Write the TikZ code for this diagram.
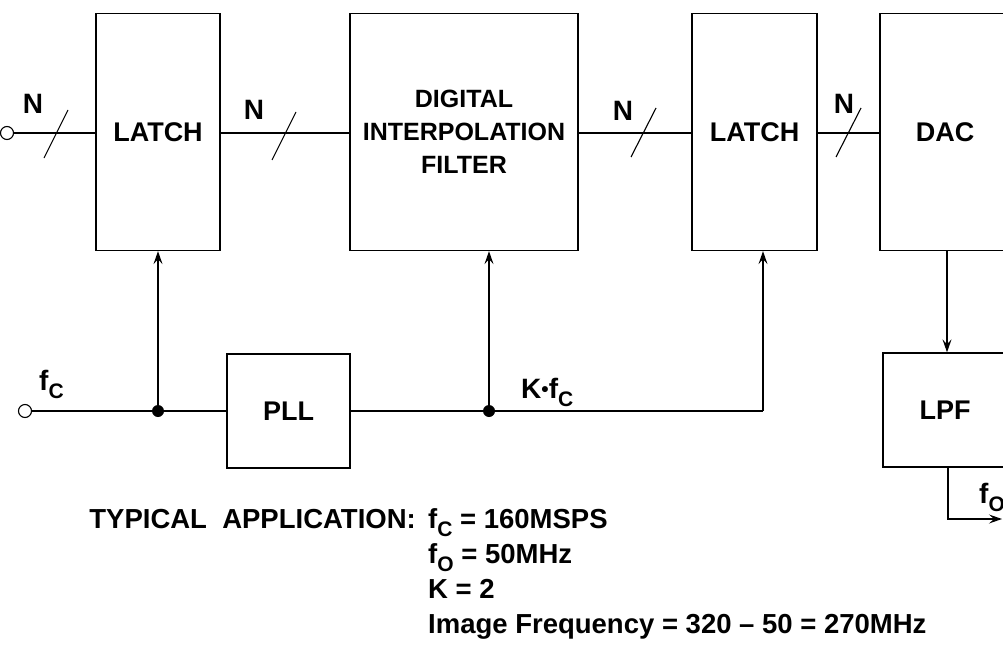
\documentclass[tikz,border=0pt]{standalone}
\usepackage{fontspec}
\setmainfont{Liberation Sans}
\usetikzlibrary{arrows.meta}
\newcommand{\sbs}[1]{\raisebox{-0.32em}{\fontsize{21}{21}\selectfont #1}}
\begin{document}
\begin{tikzpicture}[x=1pt,y=-1pt,
  blk/.style={draw,line width=1.3pt,inner sep=0pt,align=center,font=\fontsize{27}{33}\selectfont\bfseries},
  wire/.style={line width=1.3pt},
  arr/.style={wire,-{Stealth[length=13pt,width=9pt,inset=5pt]}},
  lbl/.style={inner sep=0pt,font=\fontsize{28}{30}\selectfont\bfseries},
  note/.style={inner sep=0pt,font=\fontsize{27.5}{30}\selectfont\bfseries},
  term/.style={circle,draw,line width=1.1pt,minimum size=13pt,inner sep=0pt,fill=white},
  dot/.style={circle,fill=black,minimum size=12pt,inner sep=0pt}]
\useasboundingbox (0,0) rectangle (1003,650);
\clip (0,0) rectangle (1003,650);
% blocks
\node[blk,minimum width=124pt,minimum height=237pt] (l1) at (158,132) {LATCH};
\node[blk,minimum width=228pt,minimum height=237pt,font=\fontsize{25}{33}\selectfont\bfseries] (dif) at (464,132) {DIGITAL\\INTERPOLATION\\FILTER};
\node[blk,minimum width=125pt,minimum height=237pt] (l2) at (754.5,132) {LATCH};
\node[blk,minimum width=130pt,minimum height=237pt] (dac) at (945,132) {DAC};
\node[blk,minimum width=123pt,minimum height=114pt] (pll) at (288.5,411) {PLL};
\node[blk,minimum width=124pt,minimum height=114pt] (lpf) at (945,410) {LPF};
% data path
\node[term] (inN) at (7,133) {};
\draw[wire] (inN.east) -- (inN -| l1.west);
\draw[wire] (l1.east |- inN) -- (dif.west |- inN);
\draw[wire] (dif.east |- inN) -- (l2.west |- inN);
\draw[wire] (l2.east |- inN) -- (dac.west |- inN);
% slashes
\draw[wire,line width=1.1pt] (44,158) -- (68,110);
\draw[wire,line width=1.1pt] (272,160) -- (296,112);
\draw[wire,line width=1.1pt] (631,157) -- (656,108);
\draw[wire,line width=1.1pt] (836,157) -- (861,108);
\node[lbl] (n1) at (33,104) {N};
\node[lbl] (n2) at (254,110) {N};
\node[lbl] (n3) at (623,111) {N};
\node[lbl] (n4) at (844,104) {N};
% clock path
\node[term] (inC) at (25,411) {};
\node[lbl,anchor=base west] (fc) at (39,390) {f\sbs{C}};
\node[dot] (d1) at (l1.south |- inC) {};
\node[dot] (d2) at (489,411) {};
\coordinate (c3) at (763,411);
\draw[wire] (inC.east) -- (d1) -- (pll.west |- inC);
\draw[wire] (pll.east |- inC) -- (d2) -- (c3);
\draw[arr] (c3) -- (c3 |- l2.south);
\draw[arr] (d1) -- (l1.south);
\draw[arr] (d2) -- (d2 |- dif.south);
\node[lbl,anchor=base west] (kfc) at (521,398) {K\raisebox{0.05em}{\fontsize{21}{21}\selectfont\textbullet}f\sbs{C}};
% output
\draw[arr] (dac.south -| 947,0) -- (947,0 |- lpf.north);
\coordinate (out) at (1002,519);
\draw[arr] (lpf.south -| 948,0) |- (out);
\node[lbl,anchor=base west] (fo) at (979,503) {f\sbs{O}};
% notes
\node[note,anchor=base east] (ta) at (416,528) {TYPICAL\ \ APPLICATION:};
\node[note,anchor=base west] (t1) at (428,528) {f\sbs{C} = 160MSPS};
\node[note,anchor=base west] (t2) at (428,563) {f\sbs{O} = 50MHz};
\node[note,anchor=base west] (t3) at (428,598) {K = 2};
\node[note,anchor=base west] (t4) at (428,633) {Image Frequency = 320 – 50 = 270MHz};
\end{tikzpicture}
\end{document}
